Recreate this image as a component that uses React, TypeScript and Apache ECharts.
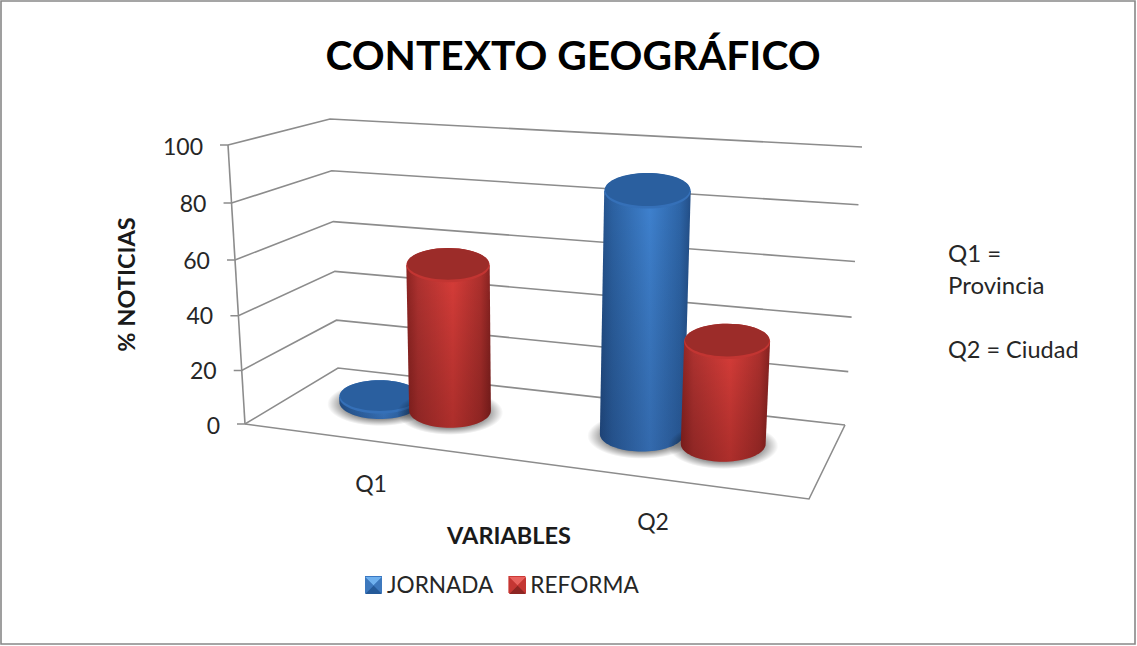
import React, { useEffect, useRef } from "react";
import * as echarts from "echarts";

const categories = ["Q1", "Q2"];
const jornada = [2, 87];
const reforma = [55, 37];
const yTicks = [0, 20, 40, 60, 80, 100];
const FONT = "Lato, Carlito, 'Open Sans', sans-serif";

// Perspective box corners (layout only): floor and top, front/back, left/right
const GL = 245, GT = 145, GB = 424, GW = 564;
const C = {
  f0: [245, 424], f1: [809, 499], b0: [338, 368], b1: [845, 425],
  tf0: [228, 145], tf1: [825, 189], tb0: [330, 119], tb1: [862, 147],
};
const lerp = (a: number, b: number, t: number) => a + (b - a) * t;
const lerp2 = (a: number[], b: number[], t: number) => [lerp(a[0], b[0], t), lerp(a[1], b[1], t)];
function project(u: number, w: number, t0: number) {
  const t = t0 - 0.05 * t0 * (1 - t0); // foreshortening of the height axis
  const floor = lerp2(lerp2(C.f0, C.f1, u), lerp2(C.b0, C.b1, u), w);
  const top = lerp2(lerp2(C.tf0, C.tf1, u), lerp2(C.tb0, C.tb1, u), w);
  return lerp2(floor, top, t);
}

function renderWall(_: any, api: any) {
  const v = api.value(1);
  const y0 = api.coord([0, 0])[1];
  const y1 = api.coord([0, 100])[1];
  const t = (y0 - api.coord([0, v])[1]) / (y0 - y1);
  const style = { stroke: "#8c8c8c", lineWidth: 1.6, fill: "none" };
  const a = project(0, 0, t), b = project(0, 1, t), c = project(1, 1, t);
  const children: any[] = [
    { type: "polyline", shape: { points: [[a[0] - 8, a[1]], a, b, c] }, style },
  ];
  if (v === 0) {
    children.push({ type: "polyline", shape: { points: [project(0, 0, 0), project(1, 0, 0), project(1, 1, 0)] }, style });
    children.push({ type: "line", shape: { x1: project(0, 0, 0)[0], y1: project(0, 0, 0)[1], x2: project(0, 0, 1)[0], y2: project(0, 0, 1)[1] }, style });
  }
  return { type: "group", children };
}

const hGrad = (stops: [number, string][]) => ({
  type: "linear", x: 0, y: 0, x2: 1, y2: 0,
  colorStops: stops.map(([offset, color]) => ({ offset, color })),
});
const vGrad = (stops: [number, string][]) => ({
  type: "linear", x: 0, y: 0, x2: 0, y2: 1,
  colorStops: stops.map(([offset, color]) => ({ offset, color })),
});

function makeCylinder(sign: number, pal: any) {
  return (_: any, api: any) => {
    const cat = api.value(0);
    const v = api.value(1);
    const y0 = api.coord([cat, 0])[1];
    const y1 = api.coord([cat, 100])[1];
    const t = (y0 - api.coord([cat, v])[1]) / (y0 - y1);
    const band = (api.coord([cat, 0])[0] - GL) / GW;
    const u = 1.007 * band - 0.0318 + sign * (0.0608 + 0.021 * band);
    const w = 0.57;
    const base = project(u, w, 0);
    const top = project(u, w, t);
    const rxB = 40 + 3 * u;
    const rxT = rxB + 1.5 * t;
    const ryB = rxB * 0.42;
    const ryT = rxT * 0.41;
    const pts: number[][] = [[top[0] - rxT, top[1]], [top[0] + rxT, top[1]]];
    for (let i = 0; i <= 40; i++) {
      const a = (Math.PI * i) / 40;
      pts.push([base[0] + rxB * Math.cos(a), base[1] + ryB * Math.sin(a)]);
    }
    return {
      type: "group",
      children: [
        {
          type: "ellipse",
          shape: { cx: base[0], cy: base[1] + 2, rx: rxB * 1.3, ry: ryB * 1.3 },
          style: {
            fill: {
              type: "radial", x: 0.5, y: 0.5, r: 0.5,
              colorStops: [
                { offset: 0, color: "rgba(0,0,0,0.55)" },
                { offset: 0.68, color: "rgba(0,0,0,0.45)" },
                { offset: 1, color: "rgba(0,0,0,0)" },
              ],
            },
          },
        },
        { type: "polygon", shape: { points: pts }, style: { fill: hGrad(pal.body) } },
        { type: "polygon", shape: { points: pts }, style: { fill: vGrad([[0, "rgba(0,0,0,0)"], [1, pal.shade]]) } },
        { type: "ellipse", shape: { cx: top[0], cy: top[1], rx: rxT, ry: ryT }, style: { fill: pal.rim } },
        { type: "ellipse", shape: { cx: top[0], cy: top[1] - 1.4, rx: rxT - 0.8, ry: ryT - 1.2 }, style: { fill: pal.cap } },
      ],
    };
  };
}

const bluePal = {
  body: [[0, "#234f88"], [0.14, "#2c62a3"], [0.55, "#3f82d0"], [0.88, "#2e66a9"], [1, "#234f88"]],
  shade: "rgba(10,20,50,0.22)", rim: "#3570b8", cap: "#2a5f9f",
};
const redPal = {
  body: [[0, "#8e2422"], [0.14, "#b03230"], [0.55, "#d93d39"], [0.88, "#ae302d"], [1, "#862220"]],
  shade: "rgba(40,0,0,0.25)", rim: "#c23532", cap: "#9c2c29",
};

const labelShift: Record<number, number> = { 0: 2, 20: 4, 40: 6, 60: 6, 80: 4, 100: 2 };
const yRich: any = {};
yTicks.forEach((v) => {
  yRich["v" + v] = { fontSize: 23, fontFamily: FONT, color: "#262626", padding: [labelShift[v], (17 * v) / 100, 0, 0] };
});

function bevelIcon(x: number, y: number, s: number, cols: string[]) {
  const c = [x + s / 2, y + s / 2];
  const tl = [x, y], tr = [x + s, y], br = [x + s, y + s], bl = [x, y + s];
  const tris = [[tl, tr, c], [tr, br, c], [br, bl, c], [bl, tl, c]];
  return tris.map((points, i) => ({
    type: "polygon", z: 10, silent: true, shape: { points }, style: { fill: cols[i] },
  }));
}

export default function App() {
  const ref = useRef<HTMLDivElement>(null);
  useEffect(() => {
    const chart = echarts.init(ref.current!, undefined, { renderer: "svg" });
    chart.setOption({
      animation: false,
      backgroundColor: "#ffffff",
      title: {
        text: "CONTEXTO GEOGRÁFICO",
        left: 568, top: 29, textAlign: "center",
        textStyle: { fontFamily: FONT, fontSize: 40.7, fontWeight: "bold", color: "#000000" },
      },
      grid: { left: GL, top: GT, width: GW, height: GB - GT },
      legend: {
        left: 360, top: 568, itemWidth: 17, itemHeight: 17, itemGap: 15,
        textStyle: { fontFamily: FONT, fontSize: 22.6, color: "#262626" },
        data: [
          { name: "JORNADA", icon: "rect", itemStyle: { color: "#3a78c2" } },
          { name: "REFORMA", icon: "rect", itemStyle: { color: "#cc3a36" } },
        ],
      },
      xAxis: {
        type: "category",
        data: categories,
        axisLine: { show: false },
        axisTick: { show: false },
        name: "VARIABLES",
        nameLocation: "middle",
        nameGap: 99,
        nameMoveOverlap: false,
        nameTextStyle: { fontFamily: FONT, fontSize: 23.5, fontWeight: "bold", color: "#1a1a1a", padding: [0, 36, 0, 0] },
        axisLabel: {
          margin: 8,
          interval: 0,
          formatter: (val: string) => `{${val}|${val}}`,
          rich: {
            Q1: { fontSize: 23, fontFamily: FONT, color: "#262626", padding: [39, 30, 0, 0] },
            Q2: { fontSize: 23, fontFamily: FONT, color: "#262626", padding: [77, 30, 0, 0] },
          },
        },
      },
      yAxis: {
        type: "value",
        min: 0, max: 100, interval: 20,
        splitLine: { show: false },
        axisLine: { show: false },
        axisTick: { show: false },
        name: "% NOTICIAS",
        nameLocation: "middle",
        nameGap: 107,
        nameMoveOverlap: false,
        nameTextStyle: { fontFamily: FONT, fontSize: 23.5, fontWeight: "bold", color: "#1a1a1a" },
        axisLabel: {
          margin: 25,
          formatter: (val: number) => `{v${val}|${val}}`,
          rich: yRich,
        },
      },
      graphic: [
        { type: "rect", silent: true, z: -1, shape: { x: 1, y: 1, width: 1134, height: 643 }, style: { fill: "none", stroke: "#888888", lineWidth: 1.6 } },
        { type: "text", x: 948, y: 240, style: { text: "Q1 =", fontFamily: FONT, fontSize: 24, fill: "#262626" } },
        { type: "text", x: 948, y: 272, style: { text: "Provincia", fontFamily: FONT, fontSize: 24, fill: "#262626" } },
        { type: "text", x: 948, y: 337, style: { text: "Q2 = Ciudad", fontFamily: FONT, fontSize: 23.5, fill: "#262626" } },
        ...bevelIcon(365, 577, 17, ["#6fb0ee", "#3d78bd", "#255a99", "#3d78bd"]),
        ...bevelIcon(509, 577, 17, ["#e8625e", "#c43633", "#8e2623", "#c43633"]),
      ],
      series: [
        { type: "custom", name: "wall", silent: true, clip: false, z: 1, renderItem: renderWall, data: yTicks.map((v) => [0, v]) },
        { type: "custom", name: "JORNADA", clip: false, z: 2, itemStyle: { color: "#3a78c2" }, renderItem: makeCylinder(-1, bluePal), data: jornada.map((v, i) => [i, v]) },
        { type: "custom", name: "REFORMA", clip: false, z: 3, itemStyle: { color: "#cc3a36" }, renderItem: makeCylinder(1, redPal), data: reforma.map((v, i) => [i, v]) },
      ],
    });
    return () => chart.dispose();
  }, []);
  return <div ref={ref} style={{ position: "absolute", left: 0, top: 0, width: 1137, height: 646 }} />;
}
